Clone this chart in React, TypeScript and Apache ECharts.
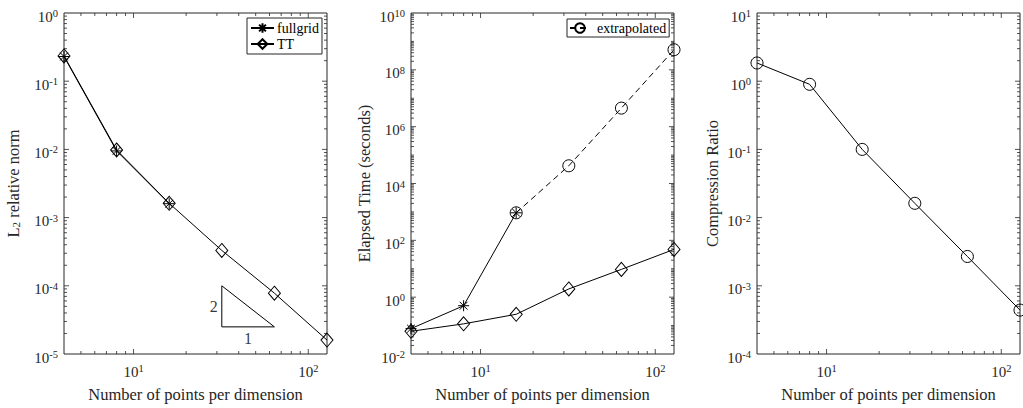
import React, { useEffect, useRef } from "react";
import * as echarts from "echarts";

// ---- data ----
const N = [4, 8, 16, 32, 64, 128];
const ERR_FULLGRID = [0.23, 0.0095, 0.0016];
const ERR_TT = [0.235, 0.0098, 0.00162, 3.3e-4, 7.8e-5, 1.6e-5];
const TIME_FULLGRID = [0.078, 0.5, 930];
const TIME_TT = [0.063, 0.115, 0.25, 1.95, 9.5, 48];
const EXTRAP_N = [16, 32, 64, 128];
const TIME_EXTRAP = [930, 4.2e4, 4.5e6, 5.1e8];
const RATIO = [1.85, 0.9, 0.1, 0.0162, 0.00269, 4.4e-4];
const TRI_X = [32, 32, 64, 32];
const TRI_Y = [1e-4, 2.5e-5, 2.5e-5, 1e-4];
const TRI_LABELS = [
  { x: 32, y: 5e-5, text: "2", pos: "left" },
  { x: 45.25, y: 2.5e-5, text: "1", pos: "bottom" },
];
const X_RANGE = [4, 128];
const Y1_RANGE = [1e-5, 1];
const Y2_RANGE = [1e-2, 1e10];
const Y3_RANGE = [1e-4, 10];
const X_NAME = "Number of points per dimension";
const Y_NAMES = ["{a|L}{sub|2}{a| relative norm}", "Elapsed Time (seconds)", "Compression Ratio"];

const C = "#262626";
const FONT = "'Liberation Serif', 'Times New Roman', serif";
const ASTERISK = "path://M5,0L5,10M0,5L10,5M1.46,1.46L8.54,8.54M8.54,1.46L1.46,8.54";

const pairs = (xs: number[], ys: number[]) => ys.map((y, i) => [xs[i], y]);

// tick values m*10^k inside range
function logTicks(range: number[], majorStep: number) {
  const out: { v: number; major: boolean }[] = [];
  const k0 = Math.floor(Math.log10(range[0]));
  const k1 = Math.ceil(Math.log10(range[1]));
  for (let k = k0; k <= k1; k++) {
    for (let m = 1; m <= 9; m++) {
      const v = m * Math.pow(10, k);
      if (v <= range[0] * 1.0000001 || v >= range[1] * 0.9999999) continue;
      out.push({ v, major: m === 1 && ((k % majorStep) + majorStep) % majorStep === 0 });
    }
  }
  return out;
}

function tickData(yRange: number[], yStep: number) {
  const d: number[][] = [];
  logTicks(X_RANGE, 1).forEach((t) => d.push([t.v, yRange[0], 0, t.major ? 1 : 0]));
  logTicks(yRange, yStep).forEach((t) => d.push([X_RANGE[0], t.v, 1, t.major ? 1 : 0]));
  return d;
}

const supLabel = (v: number) => {
  const e = Math.round(Math.log10(v));
  if (Math.abs(v / Math.pow(10, e) - 1) > 1e-6) return "";
  return `{b|10}{s|${e}}`;
};

const labelRich = {
  b: { fontSize: 15, fontFamily: FONT, color: C, lineHeight: 16, verticalAlign: "bottom" },
  s: { fontSize: 10.5, fontFamily: FONT, color: C, lineHeight: 6, verticalAlign: "top" },
};

export default function App() {
  const ref = useRef<HTMLDivElement>(null);
  useEffect(() => {
    const chart = echarts.init(ref.current!, undefined, { renderer: "svg" });
    const grids = [
      { left: 64, top: 13, width: 263, height: 344 },
      { left: 411, top: 13, width: 263, height: 343 },
      { left: 757, top: 13, width: 263, height: 344 },
    ].map((g) => ({ ...g, show: true, borderColor: C, borderWidth: 1, backgroundColor: "#fff" }));

    const xAxes = [0, 1, 2].map((i) => ({
      type: "log",
      gridIndex: i,
      min: X_RANGE[0],
      max: X_RANGE[1],
      logBase: 10,
      name: X_NAME,
      nameLocation: "middle",
      nameGap: 32,
      nameTextStyle: { fontFamily: FONT, fontSize: 16.5, color: C },
      axisLine: { show: false },
      axisTick: { show: false },
      splitLine: { show: false },
      axisLabel: {
        formatter: supLabel,
        margin: 9,
        rich: labelRich,
        showMinLabel: false,
        showMaxLabel: false,
      },
    }));
    const yRanges = [Y1_RANGE, Y2_RANGE, Y3_RANGE];
    const yGaps = [43, 38, 36];
    const yAxes = [0, 1, 2].map((i) => ({
      type: "log",
      gridIndex: i,
      min: yRanges[i][0],
      max: yRanges[i][1],
      logBase: i === 1 ? 100 : 10,
      name: Y_NAMES[i],
      nameLocation: "middle",
      nameGap: yGaps[i],
      nameRotate: 90,
      nameTextStyle: {
        fontFamily: FONT,
        fontSize: 16.5,
        color: C,
        rich: {
          a: { fontFamily: FONT, fontSize: 16.5, color: C, lineHeight: 16, verticalAlign: "top" },
          sub: { fontFamily: FONT, fontSize: 11, color: C, lineHeight: 6, verticalAlign: "bottom" },
        },
      },
      axisLine: { show: false },
      axisTick: { show: false },
      splitLine: { show: false },
      axisLabel: { formatter: supLabel, margin: 6, rich: labelRich, padding: [6, 0, 0, 0] },
    }));

    const tickSeries = (i: number, yRange: number[], yStep: number) => ({
      type: "custom",
      xAxisIndex: i,
      yAxisIndex: i,
      silent: true,
      clip: false,
      z: 1,
      dimensions: ["x", "y", "k", "m"],
      encode: { x: 0, y: 1 },
      data: tickData(yRange, yStep),
      renderItem: (params: any, api: any) => {
        const cs = params.coordSys;
        const kind = api.value(2);
        const len = api.value(3) ? 5 : 3;
        const p = api.coord([api.value(0), api.value(1)]);
        const st = { stroke: C, lineWidth: 0.8 };
        if (kind === 0) {
          const x = p[0];
          return {
            type: "group",
            children: [
              { type: "line", shape: { x1: x, y1: cs.y + cs.height, x2: x, y2: cs.y + cs.height - len }, style: st },
              { type: "line", shape: { x1: x, y1: cs.y, x2: x, y2: cs.y + len }, style: st },
            ],
          };
        }
        const y = p[1];
        return {
          type: "group",
          children: [
            { type: "line", shape: { x1: cs.x, y1: y, x2: cs.x + len, y2: y }, style: st },
            { type: "line", shape: { x1: cs.x + cs.width, y1: y, x2: cs.x + cs.width - len, y2: y }, style: st },
          ],
        };
      },
    });

    const lineBase = (name: string, i: number, data: number[][], symbol: string, size: any, dashed = false) => ({
      name,
      type: "line",
      xAxisIndex: i,
      yAxisIndex: i,
      data,
      symbol,
      symbolSize: size,
      showAllSymbol: true,
      z: 3,
      lineStyle: { color: "#000", width: 1, type: dashed ? [6, 4] : "solid" },
      itemStyle: { color: "rgba(0,0,0,0)", borderColor: "#000", borderWidth: 1 },
      emphasis: { disabled: true },
    });

    const option: any = {
      animation: false,
      textStyle: { fontFamily: FONT },
      grid: grids,
      xAxis: xAxes,
      yAxis: yAxes,
      legend: [
        {
          left: 247,
          top: 18,
          orient: "vertical",
          data: ["fullgrid", "TT"],
          itemWidth: 23,
          itemHeight: 12,
          itemGap: 2,
          padding: [3, 3, 3, 3],
          borderColor: C,
          borderWidth: 1,
          borderRadius: 0,
          backgroundColor: "#fff",
          selectedMode: false,
          textStyle: { fontFamily: FONT, fontSize: 14, color: "#000", padding: [0, 0, 0, -2] },
        },
        {
          left: 567,
          top: 19,
          orient: "vertical",
          data: ["extrapolated"],
          itemWidth: 20,
          itemHeight: 12,
          padding: [2, 3, 2, 2],
          borderColor: C,
          borderWidth: 1,
          borderRadius: 0,
          backgroundColor: "#fff",
          selectedMode: false,
          textStyle: { fontFamily: FONT, fontSize: 14, color: "#000", padding: [0, 0, 0, 2] },
        },
      ],
      series: [
        tickSeries(0, Y1_RANGE, 1),
        tickSeries(1, Y2_RANGE, 2),
        tickSeries(2, Y3_RANGE, 1),
        lineBase("TT", 0, pairs(N, ERR_TT), "diamond", [12, 14]),
        lineBase("fullgrid", 0, pairs(N, ERR_FULLGRID), ASTERISK, 11),
        {
          type: "line",
          xAxisIndex: 0,
          yAxisIndex: 0,
          data: pairs(TRI_X, TRI_Y),
          symbol: "none",
          silent: true,
          lineStyle: { color: "#000", width: 1 },
        },
        {
          type: "scatter",
          xAxisIndex: 0,
          yAxisIndex: 0,
          symbolSize: 0,
          silent: true,
          data: TRI_LABELS.map((l) => ({
            value: [l.x, l.y],
            label: {
              show: true,
              formatter: l.text,
              position: l.pos,
              distance: 4,
              fontFamily: FONT,
              fontSize: 16,
              color: "#000",
            },
          })),
        },
        lineBase("TT", 1, pairs(N, TIME_TT), "diamond", [12, 14]),
        lineBase("fullgrid", 1, pairs(N, TIME_FULLGRID), ASTERISK, 11),
        lineBase("extrapolated", 1, pairs(EXTRAP_N, TIME_EXTRAP), "circle", 12, true),
        lineBase("ratio", 2, pairs(N, RATIO), "circle", 12),
      ],
    };
    chart.setOption(option);
    return () => chart.dispose();
  }, []);
  return (
    <div
      ref={ref}
      style={{ position: "fixed", left: 0, top: 0, width: 1023, height: 408, background: "#fff" }}
    />
  );
}
